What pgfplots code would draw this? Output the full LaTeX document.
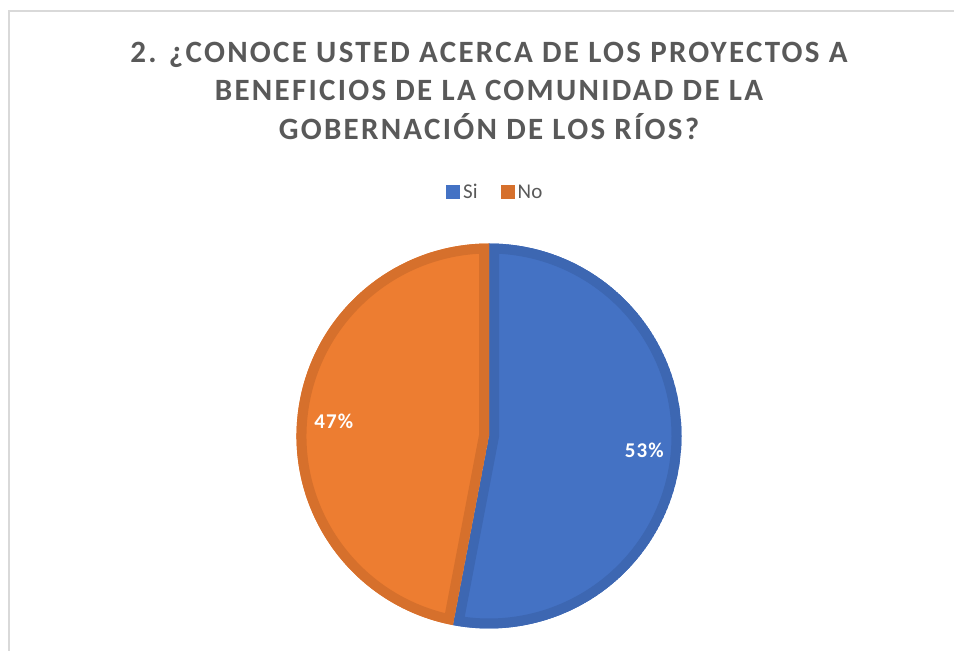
\documentclass[border=0pt]{standalone}
\usepackage{pgfplots}
\pgfplotsset{compat=1.18}
\usepackage{pgfplotstable}
\usepackage{fontspec}
\setmainfont{Carlito}
\newfontfamily\titlefont[LetterSpace=7.3]{Carlito}
\newfontfamily\labfont[LetterSpace=5]{Carlito}
\definecolor{blueF}{HTML}{4472C4}
\definecolor{blueB}{HTML}{3D67B2}
\definecolor{orangeF}{HTML}{ED7D31}
\definecolor{orangeB}{HTML}{D6702C}
\definecolor{txt}{HTML}{595959}
\definecolor{framec}{HTML}{D9D9D9}
\pgfplotstableread{
label value
Si 53
No 47
}\piedata
\pgfplotstablegetelem{0}{value}\of\piedata \let\vSi\pgfplotsretval
\pgfplotstablegetelem{1}{value}\of\piedata \let\vNo\pgfplotsretval
\pgfmathsetmacro\fracSi{\vSi/(\vSi+\vNo)}
\pgfmathsetmacro\aEnd{90-360*\fracSi}
\pgfmathsetmacro\aMidSi{(90+\aEnd)/2}
\pgfmathsetmacro\aMidNo{(\aEnd-270)/2}
\begin{document}%
\begin{tikzpicture}
\begin{axis}[width=954pt,height=651pt,scale only axis,
  xmin=0,xmax=954,ymin=0,ymax=651,hide axis,clip=false]
\coordinate (BL) at (0,0);
\coordinate (TR) at (954,651);
% frame
\draw[framec,line width=2pt] (8.5,0) -- (8.5,639.5) -- (954,639.5);
% title
\node[anchor=base,text=txt,font=\titlefont\bfseries\fontsize{31}{37}\selectfont] at (489,651-62.5) {2. ¿CONOCE USTED ACERCA DE LOS PROYECTOS A};
\node[anchor=base,text=txt,font=\titlefont\bfseries\fontsize{31}{37}\selectfont] at (489,651-101) {BENEFICIOS DE LA COMUNIDAD DE LA};
\node[anchor=base,text=txt,font=\titlefont\bfseries\fontsize{31}{37}\selectfont] at (489,651-140) {GOBERNACIÓN DE LOS RÍOS?};
% legend
\fill[blueF] (446,651-185) rectangle (460,651-199);
\node[anchor=base west,inner sep=0pt,text=txt,font=\fontsize{21}{24}\selectfont] at (463,651-199) {Si};
\fill[orangeB] (501,651-185) rectangle (515,651-199);
\node[anchor=base west,inner sep=0pt,text=txt,font=\fontsize{21}{24}\selectfont] at (517.5,651-199) {No};
% pie slices
\begin{scope}
\clip (489,215) -- ++(90:192.5pt) arc[start angle=90,end angle=\aEnd,radius=192.5pt] -- cycle;
\fill[blueF] (489,215) -- ++(90:192.5pt) arc[start angle=90,end angle=\aEnd,radius=192.5pt] -- cycle;
\draw[blueB,line width=20pt] (489,215) -- ++(90:192.5pt) arc[start angle=90,end angle=\aEnd,radius=192.5pt] -- cycle;
\end{scope}
\begin{scope}
\clip (489,215) -- ++(\aEnd:192.5pt) arc[start angle=\aEnd,end angle=-270,radius=192.5pt] -- cycle;
\fill[orangeF] (489,215) -- ++(\aEnd:192.5pt) arc[start angle=\aEnd,end angle=-270,radius=192.5pt] -- cycle;
\draw[orangeB,line width=20pt] (489,215) -- ++(\aEnd:192.5pt) arc[start angle=\aEnd,end angle=-270,radius=192.5pt] -- cycle;
\end{scope}
% labels
\path (489,215) ++(\aMidSi:156pt) node[text=white,font=\labfont\bfseries\fontsize{21}{24}\selectfont] {\vSi\%};
\path (489,215) ++(\aMidNo:156pt) node[text=white,font=\labfont\bfseries\fontsize{21}{24}\selectfont] {\vNo\%};
\end{axis}
\pgfresetboundingbox
\path[use as bounding box] (BL) rectangle (TR);
\end{tikzpicture}%
\end{document}
